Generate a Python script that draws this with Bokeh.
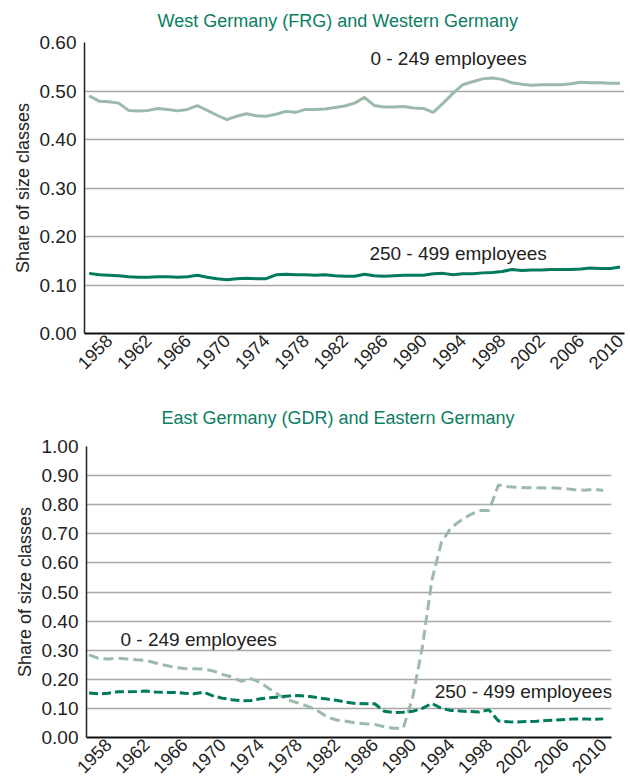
import math
from bokeh.plotting import figure
from bokeh.models import Range1d, FixedTicker, NumeralTickFormatter, Label
from bokeh.embed import file_html
from bokeh.resources import INLINE

# ---------------- data ----------------
years = [1956, 1957, 1958, 1959, 1960, 1961, 1962, 1963, 1964, 1965,
         1966, 1967, 1968, 1969, 1970, 1971, 1972, 1973, 1974, 1975,
         1976, 1977, 1978, 1979, 1980, 1981, 1982, 1983, 1984, 1985,
         1986, 1987, 1988, 1989, 1990, 1991, 1992, 1993, 1994, 1995,
         1996, 1997, 1998, 1999, 2000, 2001, 2002, 2003, 2004, 2005,
         2006, 2007, 2008, 2009, 2010]

tick_years = [1958, 1962, 1966, 1970, 1974, 1978, 1982, 1986, 1990,
              1994, 1998, 2002, 2006, 2010]

west_small = [0.490, 0.479, 0.478, 0.475, 0.460, 0.459, 0.460, 0.464, 0.462, 0.459,
              0.462, 0.470, 0.460, 0.450, 0.441, 0.448, 0.453, 0.449, 0.448, 0.452,
              0.458, 0.456, 0.462, 0.462, 0.463, 0.466, 0.469, 0.475, 0.487, 0.470,
              0.467, 0.467, 0.468, 0.465, 0.464, 0.456, 0.475, 0.495, 0.513, 0.519,
              0.525, 0.527, 0.524, 0.517, 0.514, 0.512, 0.513, 0.513, 0.513, 0.515,
              0.518, 0.517, 0.517, 0.516, 0.516]

west_medium = [0.124, 0.121, 0.120, 0.119, 0.117, 0.116, 0.116, 0.117, 0.117, 0.116,
               0.117, 0.120, 0.116, 0.113, 0.111, 0.113, 0.114, 0.113, 0.113, 0.121,
               0.122, 0.121, 0.121, 0.120, 0.121, 0.119, 0.118, 0.118, 0.122, 0.119,
               0.118, 0.119, 0.120, 0.120, 0.120, 0.123, 0.124, 0.121, 0.123, 0.123,
               0.125, 0.126, 0.128, 0.132, 0.130, 0.131, 0.131, 0.132, 0.132, 0.132,
               0.133, 0.135, 0.134, 0.134, 0.137]

east_small = [0.284, 0.272, 0.270, 0.273, 0.270, 0.267, 0.265, 0.256, 0.248, 0.241,
              0.237, 0.236, 0.235, 0.229, 0.217, 0.208, 0.193, 0.202, 0.189, 0.166,
              0.145, 0.128, 0.118, 0.107, 0.092, 0.070, 0.060, 0.056, 0.050, 0.047,
              0.045, 0.037, 0.032, 0.032, 0.140, 0.310, 0.540, 0.670, 0.720, 0.745,
              0.765, 0.780, 0.780, 0.868, 0.862, 0.860, 0.858, 0.858, 0.857, 0.857,
              0.855, 0.851, 0.850, 0.853, 0.849]

east_medium = [0.153, 0.150, 0.152, 0.157, 0.157, 0.158, 0.160, 0.156, 0.155, 0.155,
               0.152, 0.150, 0.156, 0.143, 0.135, 0.130, 0.126, 0.127, 0.133, 0.137,
               0.140, 0.143, 0.144, 0.142, 0.137, 0.132, 0.128, 0.121, 0.117, 0.116,
               0.116, 0.090, 0.086, 0.087, 0.090, 0.100, 0.117, 0.100, 0.093, 0.091,
               0.089, 0.088, 0.095, 0.057, 0.054, 0.053, 0.055, 0.056, 0.058, 0.060,
               0.062, 0.064, 0.064, 0.062, 0.064]

west_ticks = [0.0, 0.1, 0.2, 0.3, 0.4, 0.5, 0.6]
east_ticks = [0.0, 0.1, 0.2, 0.3, 0.4, 0.5, 0.6, 0.7, 0.8, 0.9, 1.0]

# ---------------- style ----------------
FONT = "Liberation Sans"
LIGHT = "#9bbaaa"
DARK = "#007a5c"
TITLE_GREEN = "#0b7d62"
TEXT = "#222222"


def make_fig(title, xr, ymax, yticks, width, height, bl, br, bt, bb,
             title_offset, title_standoff):
    p = figure(width=width, height=height, output_backend="svg", toolbar_location=None,
               x_range=Range1d(*xr), y_range=Range1d(0, ymax),
               min_border_left=bl, min_border_right=br, min_border_top=bt,
               min_border_bottom=bb)
    p.title.text = title
    p.title.align = "left"
    p.title.vertical_align = "top"
    p.title.offset = title_offset
    p.title.standoff = title_standoff
    p.title.text_color = TITLE_GREEN
    p.title.text_font = FONT
    p.title.text_font_size = "18px"
    p.title.text_font_style = "normal"
    p.outline_line_color = None
    p.background_fill_color = "white"
    p.border_fill_color = "white"

    p.xgrid.visible = False
    p.ygrid.ticker = FixedTicker(ticks=yticks)
    p.ygrid.grid_line_color = "#a8a8a8"
    p.ygrid.grid_line_width = 1.5

    p.yaxis.ticker = FixedTicker(ticks=yticks)
    p.yaxis.formatter = NumeralTickFormatter(format="0.00")
    p.yaxis.axis_label = "Share of size classes"
    p.yaxis.axis_label_text_font = FONT
    p.yaxis.axis_label_text_font_size = "18px"
    p.yaxis.axis_label_text_font_style = "normal"
    p.yaxis.axis_label_text_color = TEXT
    p.yaxis.axis_label_standoff = 4
    p.yaxis.axis_line_color = "#222222"
    p.yaxis.axis_line_width = 1.5

    p.xaxis.ticker = FixedTicker(ticks=tick_years)
    p.xaxis.major_label_orientation = math.pi / 4
    p.xaxis.axis_line_color = "#111111"
    p.xaxis.axis_line_width = 2

    for ax in (p.xaxis, p.yaxis):
        ax.major_tick_line_color = None
        ax.minor_tick_line_color = None
        ax.major_tick_in = 0
        ax.major_tick_out = 0
        ax.minor_tick_in = 0
        ax.minor_tick_out = 0
        ax.major_label_text_font = FONT
        ax.major_label_text_color = TEXT
    p.yaxis.major_label_text_font_size = "19px"
    p.yaxis.major_label_standoff = 8
    p.xaxis.major_label_text_font_size = "18px"
    p.xaxis.major_label_standoff = 4
    return p


def add_label(p, x, y, text):
    p.add_layout(Label(x=x, y=y, text=text, text_font=FONT, text_font_size="19px",
                       text_color=TEXT, text_baseline="middle", text_align="left"))


# ---------------- top chart ----------------
p1 = make_fig("West Germany (FRG) and Western Germany", (1955.52, 2010.45), 0.6,
              west_ticks, 630, 390, 84, 6, 42, 57, 73, 19)
p1.line(years, west_small, line_color=LIGHT, line_width=3)
p1.line(years, west_medium, line_color=DARK, line_width=3)
add_label(p1, 1984.6, 0.567, "0 - 249 employees")
add_label(p1, 1984.5, 0.165, "250 - 499 employees")

# ---------------- bottom chart ----------------
p2 = make_fig("East Germany (GDR) and Eastern Germany", (1955.73, 2010.87), 1.0,
              east_ticks, 630, 392, 86, 19, 56, 44, 75, 33)
p2.line(years, east_small, line_color=LIGHT, line_width=3, line_dash="10 5")
p2.line(years, east_medium, line_color=DARK, line_width=3, line_dash="9 4")
add_label(p2, 1959.3, 0.336, "0 - 249 employees")
add_label(p2, 1992.3, 0.158, "250 - 499 employees")

open("out.html", "w").write(file_html([p1, p2], INLINE))
